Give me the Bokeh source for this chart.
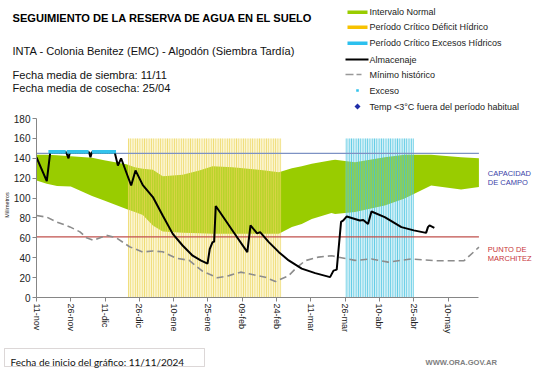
import numpy as np
from bokeh.plotting import figure
from bokeh.layouts import column, row
from bokeh.models import (Range1d, FixedTicker, Label, BoxAnnotation, Arrow,
                          PolyAnnotation)
from bokeh.embed import file_html
from bokeh.resources import INLINE

# ---------------- data ----------------
tick_days = [0, 15, 30, 45, 60, 75, 90, 105, 120, 135, 150, 165, 180]
tick_labels = ["11-nov", "26-nov", "11-dic", "26-dic", "10-ene", "25-ene", "09-feb",
               "24-feb", "11-mar", "26-mar", "10-abr", "25-abr", "10-may"]
x_end_day = 193.5
y_ticks = [0, 20, 40, 60, 80, 100, 120, 140, 160, 180]

capacidad_campo = 145
punto_marchitez = 61

deficit_start, deficit_end = 40, 107
exceso_start, exceso_end = 135, 165
period_top = 160

normal_days = [0, 4.5, 9, 15, 24.3, 29.6, 39.3, 43, 46.5, 50.9, 55.2, 63.9, 71.2, 77,
               85.7, 100, 106, 111.7, 116, 120.4, 129, 130.6, 139.3, 152.3, 161,
               172.6, 185.7, 193.5]
normal_upper = [143.5, 143.5, 143, 142, 140.5, 138, 134, 131, 129.5, 128.4, 122, 123.5,
                127.8, 132, 131, 127.8, 126, 130, 132, 134.5, 138, 138.5, 136, 141,
                143.5, 143.5, 141, 140]
normal_lower = [117.7, 114.3, 112, 111.6, 102, 97.6, 89, 86, 83, 72.4, 66.4, 65, 64.5,
                64, 64, 64, 64, 71, 74, 79, 85, 84, 86, 92.5, 99.5, 112.6, 108.6, 111]

alm_days = [0, 4.5, 6, 13, 14, 14.6, 23, 23.6, 24.2, 34.2, 35.6, 37, 41.4, 43.3, 46.5,
            50.9, 55.2, 59.6, 63.9, 68.3, 72, 74.8, 75.8, 77, 77.7, 78.4, 85.7, 92.2,
            93.6, 96.5, 97.8, 101.6, 106, 110.3, 116, 121.9, 128.4, 129.9, 131.3,
            133.2, 134.2, 135.7, 141.4, 142.9, 145, 146.5, 152.3, 159.6, 165, 170.4,
            171.2, 171.9, 174]
alm_vals = [141, 117, 146, 146, 140, 146, 146, 141, 146, 146, 132.6, 140, 112.6, 127.8,
            113, 101, 82.5, 64, 52.3, 42, 37, 34, 49, 55.7, 56, 92, 67.4, 45.6, 72.5,
            64.5, 65.7, 55.7, 45.6, 37.3, 29, 24.5, 20.5, 27, 28, 76, 77.5, 81.5, 77.5,
            78, 74, 86.5, 80.8, 70.8, 67.5, 65, 70.8, 72.5, 70]

min_days = [0, 4.5, 8.8, 14.6, 19, 21.9, 24.8, 30.6, 34.9, 40.7, 46.5, 50.9, 55.2, 61,
            66.8, 72.6, 79.1, 84.2, 89.3, 92.9, 100.1, 104.5, 110.3, 113.2, 117.5,
            123.3, 129.1, 132, 139.3, 146.5, 153.8, 163.9, 174, 187, 193.5]
min_vals = [82.5, 80.8, 76, 71, 66, 60, 57.5, 62.5, 60, 51, 45.7, 46.8, 46, 39.6, 37.3,
            26.5, 19.8, 22, 25.5, 23.8, 20.4, 16, 22, 28.8, 37, 40.6, 42, 40.6, 37.3,
            38.8, 35.6, 38.8, 37, 37, 50.6]

exceso_days = [6, 7, 8, 9, 10, 11, 12, 14, 15, 16, 17, 18, 19, 20, 21, 22,
               25, 26, 27, 28, 29, 30, 31, 32, 33, 34]
exceso_vals = [146.5, 146.5, 146.5, 146.5, 146.5, 146.5, 146.5, 146.5, 146.5, 146.5,
               146.5, 146.5, 146.5, 146.5, 146.5, 146.5, 146.5, 146.5, 146.5, 146.5,
               146.5, 146.5, 146.5, 146.5, 146.5, 146.5]

legend_labels = ["Intervalo Normal", "Período Crítico Déficit Hídrico",
                 "Período Crítico Excesos Hídricos", "Almacenaje", "Mínimo histórico",
                 "Exceso", "Temp <3°C fuera del período habitual"]

# ---------------- layout geometry (page pixels) ----------------
FONT = "Liberation Sans"
W = 541
TOP_H = 112          # header strip: 0..112
MAIN_END = 340       # chart strip: 112..340
TOTAL_H = 368        # footer strip: 340..368
FRAME_LEFT = 33
FRAME_BOTTOM = 297
PX_PER_DAY = 2.3
PX_PER_MM = 179 / 180


def dx(px):
    return (px - FRAME_LEFT) / PX_PER_DAY


def dy(py):
    return (FRAME_BOTTOM - py) / PX_PER_MM


def text(fig, x, y, s, size, color="#000000", bold=False, align="left",
         baseline="alphabetic", font=FONT):
    fig.add_layout(Label(x=x, y=y, text=s, text_font=font, text_font_size=f"{size}px",
                         text_color=color, text_font_style="bold" if bold else "normal",
                         text_align=align, text_baseline=baseline))


def blank_fig(height, y0, y1):
    f = figure(width=W, height=height, output_backend="svg", toolbar_location=None,
               x_range=Range1d(0, W), y_range=Range1d(y0, y1),
               x_axis_type=None, y_axis_type=None, min_border=0)
    f.title.visible = False
    f.grid.visible = False
    f.outline_line_color = None
    return f


# ---------------- header ----------------
t = blank_fig(TOP_H, 0, TOP_H)


def ty(py):
    return TOP_H - py


text(t, 12, ty(17.3), "SEGUIMIENTO DE LA RESERVA DE AGUA  EN EL SUELO", 11.1,
     bold=True)
text(t, 12, ty(50), "INTA - Colonia Benitez (EMC) - Algodón (Siembra Tardía)", 11.1,
     color="#111111")
text(t, 12, ty(74), "Fecha media de siembra: 11/11", 11.1, color="#111111")
text(t, 12, ty(87.3), "Fecha media de cosecha: 25/04", 11.1, color="#111111")

rows = [11.7, 26.7, 42.7, 59, 74, 90, 106]
bar_colors = ["#99CC00", "#F7C200", "#2CC0EE"]
for yc, c in zip(rows[:3], bar_colors):
    t.add_layout(BoxAnnotation(left=347, right=367, top=ty(yc - 1.8),
                               bottom=ty(yc + 1.8), fill_color=c, fill_alpha=1,
                               line_color=None))
t.add_layout(Arrow(end=None, x_start=345, y_start=ty(rows[3]), x_end=368,
                   y_end=ty(rows[3]), line_color="black", line_width=2))
t.add_layout(Arrow(end=None, x_start=345, y_start=ty(rows[4]), x_end=361,
                   y_end=ty(rows[4]), line_color="#999999", line_width=1.6,
                   line_dash="8 3"))
t.add_layout(BoxAnnotation(left=355.7, right=358.3, top=ty(rows[5] - 1.3),
                           bottom=ty(rows[5] + 1.3), fill_color="#33C3EC", fill_alpha=1,
                           line_color=None))
t.add_layout(PolyAnnotation(xs=[354, 357, 360, 357],
                            ys=[ty(rows[6]), ty(rows[6] - 3), ty(rows[6]),
                                ty(rows[6] + 3)],
                            fill_color="#1F2DA8", fill_alpha=1, line_color=None))
for yc, lab in zip(rows, legend_labels):
    text(t, 369, ty(yc), lab, 9, color="#222222", baseline="middle")

# ---------------- chart ----------------
p = figure(width=W, height=MAIN_END - TOP_H, output_backend="svg",
           toolbar_location=None,
           x_range=Range1d(0, dx(W)), y_range=Range1d(0, dy(TOP_H)),
           min_border_left=FRAME_LEFT, min_border_right=0, min_border_top=0,
           min_border_bottom=MAIN_END - FRAME_BOTTOM)
p.title.visible = False
p.grid.visible = False
p.outline_line_color = None

p.varea(x=normal_days, y1=normal_lower, y2=normal_upper, fill_color="#99CC00")

p.quad(left=[deficit_start], right=[deficit_end], bottom=[0], top=[period_top],
       fill_color="#F3E27A", fill_alpha=0.35, line_color=None,
       hatch_pattern="vertical_line", hatch_color="#EBD354", hatch_alpha=0.75,
       hatch_scale=2.3, hatch_weight=1.3)
p.quad(left=[exceso_start], right=[exceso_end], bottom=[0], top=[period_top],
       fill_color="#7FD3E8", fill_alpha=0.35, line_color=None,
       hatch_pattern="vertical_line", hatch_color="#3FC0DF", hatch_alpha=0.75,
       hatch_scale=2.3, hatch_weight=1.3)

p.segment(x0=[0], y0=[capacidad_campo], x1=[x_end_day], y1=[capacidad_campo],
          line_color="#7D92C4", line_width=1.2)
p.segment(x0=[0], y0=[punto_marchitez], x1=[x_end_day], y1=[punto_marchitez],
          line_color="#C0504D", line_width=1.2)

p.line(min_days, min_vals, line_color="#8C8C8C", line_width=1.6, line_dash="7 4")
p.line(alm_days, alm_vals, line_color="black", line_width=2)
p.scatter(exceso_days, exceso_vals, marker="square", size=3.6, fill_color="#33C3EC",
          line_color=None)

p.yaxis.ticker = FixedTicker(ticks=y_ticks)
p.yaxis.bounds = (0, 180)
p.xaxis.ticker = FixedTicker(ticks=tick_days)
p.xaxis.bounds = (0, x_end_day)
p.xaxis.major_label_overrides = {d: l for d, l in zip(tick_days, tick_labels)}
p.xaxis.major_label_orientation = "vertical"
for ax in (p.xaxis[0], p.yaxis[0]):
    ax.axis_line_color = "#868686"
    ax.major_tick_line_color = "#868686"
    ax.major_tick_out = 4
    ax.major_tick_in = 0
    ax.minor_tick_line_color = None
    ax.major_label_text_font = FONT
    ax.major_label_text_color = "#222222"
    ax.major_label_standoff = 2
p.yaxis.major_label_text_font_size = "10px"
p.xaxis.major_label_text_font_size = "9px"
p.yaxis.axis_label = "Milímetros"
p.yaxis.axis_label_text_font = FONT
p.yaxis.axis_label_text_font_size = "5.5px"
p.yaxis.axis_label_text_font_style = "normal"
p.yaxis.axis_label_text_color = "#222222"
p.yaxis.axis_label_standoff = 1

text(p, dx(487), dy(172.7), "CAPACIDAD", 7.5, color="#3A3FA8")
text(p, dx(487), dy(182), "DE  CAMPO", 7.5, color="#3A3FA8")
text(p, dx(487), dy(249), "PUNTO  DE", 7.5, color="#C8363A")
text(p, dx(487), dy(257.7), "MARCHITEZ", 7.5, color="#C8363A")

# ---------------- footer ----------------
b = blank_fig(TOTAL_H - MAIN_END, 0, TOTAL_H - MAIN_END)


def by(py):
    return TOTAL_H - py


b.add_layout(BoxAnnotation(left=4, right=204, top=by(348), bottom=by(366),
                           fill_color="white", fill_alpha=1, line_color="#8C7B7A",
                           line_width=1))
text(b, 10, by(361), "Fecha de inicio del gráfico:  11/11/2024", 10, color="#111111",
     font="Lato")
text(b, 425, by(362), "WWW.ORA.GOV.AR", 7.6, color="#808080", bold=True)

layout = column(row(t), p, row(b), spacing=0)
open("out.html", "w").write(file_html(layout, INLINE))
